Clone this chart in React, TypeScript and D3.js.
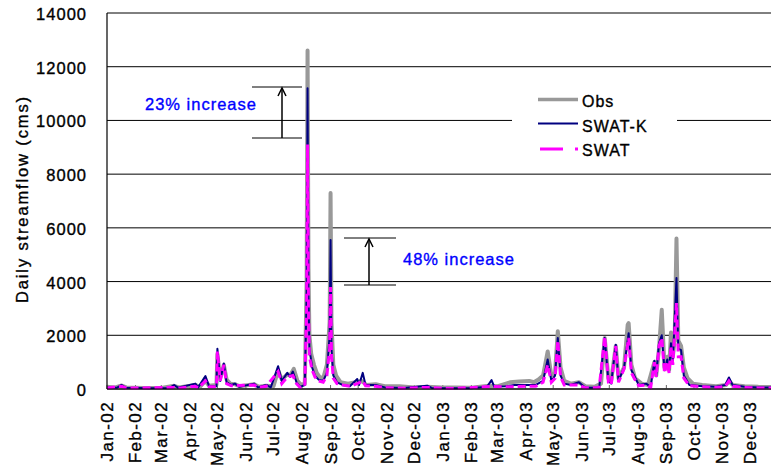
import React from "react";
import * as d3 from "d3";

const months = ["Jan","Feb","Mar","Apr","May","Jun","Jul","Aug","Sep","Oct","Nov","Dec"];
const years = ["02", "03"];
const yTicks = [0, 2000, 4000, 6000, 8000, 10000, 12000, 14000];

const obs: [string, number][] = [
  ["2002-01-01",80],["2002-01-10",60],["2002-01-17",130],["2002-01-22",60],["2002-02-10",40],["2002-03-01",40],
  ["2002-03-15",120],["2002-03-20",60],["2002-04-07",150],["2002-04-12",80],["2002-04-18",300],["2002-04-22",120],
  ["2002-04-30",150],["2002-05-01",1300],["2002-05-04",400],["2002-05-08",900],["2002-05-11",350],["2002-05-15",200],
  ["2002-05-20",180],["2002-05-25",100],["2002-06-10",180],["2002-06-15",80],["2002-06-23",120],["2002-07-01",100],
  ["2002-07-06",700],["2002-07-10",350],["2002-07-16",550],["2002-07-19",500],["2002-07-23",750],["2002-07-27",300],
  ["2002-07-31",150],["2002-08-04",200],["2002-08-06",4000],["2002-08-07",12600],["2002-08-08",4500],["2002-08-09",2000],
  ["2002-08-11",1300],["2002-08-14",900],["2002-08-17",600],["2002-08-20",450],["2002-08-24",400],["2002-08-28",900],
  ["2002-08-31",2500],["2002-09-01",7300],["2002-09-02",2500],["2002-09-04",900],["2002-09-07",500],["2002-09-12",250],
  ["2002-09-20",200],["2002-09-28",250],["2002-10-05",300],["2002-10-10",150],["2002-10-20",180],["2002-10-30",100],
  ["2002-11-15",100],["2002-12-01",60],["2002-12-15",80],["2002-12-31",60],
  ["2003-01-15",60],["2003-02-01",50],["2003-02-20",120],["2003-03-01",100],["2003-03-15",250],["2003-03-25",280],
  ["2003-04-05",300],["2003-04-10",250],["2003-04-15",350],["2003-04-20",500],["2003-04-25",1400],["2003-04-29",500],
  ["2003-05-03",600],["2003-05-06",2150],["2003-05-09",800],["2003-05-13",300],["2003-05-20",200],["2003-05-29",250],
  ["2003-06-05",100],["2003-06-15",80],["2003-06-22",200],["2003-06-26",1900],["2003-06-30",400],["2003-07-03",300],
  ["2003-07-08",1600],["2003-07-11",400],["2003-07-17",800],["2003-07-21",2400],["2003-07-22",2450],["2003-07-25",900],
  ["2003-07-29",400],["2003-08-05",200],["2003-08-12",150],["2003-08-19",1000],["2003-08-21",500],["2003-08-24",1500],
  ["2003-08-27",2950],["2003-08-30",800],["2003-09-02",1200],["2003-09-04",700],["2003-09-06",2100],["2003-09-08",1200],
  ["2003-09-10",1800],["2003-09-12",5600],["2003-09-14",1800],["2003-09-17",1600],["2003-09-20",800],["2003-09-24",400],
  ["2003-09-30",200],["2003-10-10",150],["2003-10-25",100],["2003-11-05",150],["2003-11-08",300],["2003-11-12",150],
  ["2003-11-25",100],["2003-12-10",80],["2003-12-31",70]
];

const swatK: [string, number][] = [
  ["2002-01-01",60],["2002-01-12",50],["2002-01-17",150],["2002-01-21",50],["2002-02-15",30],["2002-03-10",40],
  ["2002-03-15",150],["2002-03-19",50],["2002-04-07",200],["2002-04-10",60],["2002-04-18",480],["2002-04-22",100],
  ["2002-04-30",100],["2002-05-01",1500],["2002-05-04",300],["2002-05-08",950],["2002-05-11",250],["2002-05-16",150],
  ["2002-05-20",200],["2002-05-25",80],["2002-06-10",200],["2002-06-14",60],["2002-06-23",150],["2002-06-28",60],
  ["2002-07-06",850],["2002-07-10",300],["2002-07-16",600],["2002-07-19",450],["2002-07-22",650],["2002-07-26",250],
  ["2002-07-30",80],["2002-08-04",150],["2002-08-06",3500],["2002-08-07",11200],["2002-08-08",3500],["2002-08-09",1500],
  ["2002-08-12",800],["2002-08-15",500],["2002-08-19",350],["2002-08-24",300],["2002-08-28",600],["2002-08-31",2000],
  ["2002-09-01",5550],["2002-09-02",1500],["2002-09-04",500],["2002-09-08",250],["2002-09-14",150],["2002-09-22",100],
  ["2002-09-30",370],["2002-10-02",150],["2002-10-06",600],["2002-10-09",150],["2002-10-20",150],["2002-10-30",60],
  ["2002-11-20",40],["2002-12-15",120],["2002-12-20",40],
  ["2003-01-10",30],["2003-02-01",30],["2003-02-18",80],["2003-02-23",330],["2003-02-26",80],["2003-03-10",100],
  ["2003-03-20",150],["2003-04-01",150],["2003-04-12",150],["2003-04-20",300],["2003-04-25",1100],["2003-04-29",300],
  ["2003-05-03",500],["2003-05-06",1900],["2003-05-09",500],["2003-05-13",200],["2003-05-20",150],["2003-05-29",250],
  ["2003-06-05",50],["2003-06-20",50],["2003-06-26",1900],["2003-06-30",300],["2003-07-03",200],["2003-07-08",1650],
  ["2003-07-11",300],["2003-07-17",800],["2003-07-22",2080],["2003-07-25",700],["2003-07-28",500],["2003-08-02",150],
  ["2003-08-10",200],["2003-08-15",80],["2003-08-19",1050],["2003-08-21",500],["2003-08-24",1700],["2003-08-27",2000],
  ["2003-08-30",700],["2003-09-02",1100],["2003-09-04",700],["2003-09-06",1700],["2003-09-08",1000],["2003-09-12",4130],
  ["2003-09-14",1500],["2003-09-17",1450],["2003-09-20",500],["2003-09-26",150],["2003-10-10",100],["2003-10-25",80],
  ["2003-11-04",150],["2003-11-08",430],["2003-11-12",150],["2003-11-25",80],["2003-12-10",60],["2003-12-31",50]
];

const swat: [string, number][] = [
  ["2002-01-01",40],["2002-01-17",100],["2002-01-22",30],["2002-03-15",60],["2002-03-19",30],["2002-04-07",100],
  ["2002-04-10",40],["2002-04-18",300],["2002-04-22",80],["2002-04-30",80],["2002-05-01",1400],["2002-05-04",300],
  ["2002-05-08",900],["2002-05-11",200],["2002-05-16",120],["2002-06-10",150],["2002-06-14",50],["2002-06-23",100],
  ["2002-07-06",650],["2002-07-10",200],["2002-07-16",450],["2002-07-22",500],["2002-07-26",200],["2002-07-30",50],
  ["2002-08-04",100],["2002-08-06",3000],["2002-08-07",9100],["2002-08-08",3000],["2002-08-09",1200],["2002-08-12",700],
  ["2002-08-15",450],["2002-08-19",300],["2002-08-24",250],["2002-08-28",500],["2002-08-31",1500],["2002-09-01",3800],
  ["2002-09-02",1200],["2002-09-04",400],["2002-09-08",200],["2002-09-14",150],["2002-09-22",100],["2002-09-30",200],
  ["2002-10-06",300],["2002-10-09",120],["2002-10-20",100],["2002-10-30",50],["2002-11-20",30],["2002-12-15",60],
  ["2002-12-31",30],
  ["2003-01-15",20],["2003-02-23",100],["2003-03-10",80],["2003-04-01",100],["2003-04-12",100],["2003-04-20",250],
  ["2003-04-25",900],["2003-04-29",250],["2003-05-03",400],["2003-05-06",1800],["2003-05-09",450],["2003-05-13",150],
  ["2003-05-29",150],["2003-06-05",40],["2003-06-20",60],["2003-06-26",1950],["2003-06-30",250],["2003-07-03",150],
  ["2003-07-08",1600],["2003-07-11",250],["2003-07-17",750],["2003-07-22",1900],["2003-07-25",600],["2003-07-28",400],
  ["2003-08-02",120],["2003-08-10",150],["2003-08-15",60],["2003-08-19",1000],["2003-08-21",450],["2003-08-24",1600],
  ["2003-08-27",1900],["2003-08-30",600],["2003-09-02",1000],["2003-09-04",600],["2003-09-06",1600],["2003-09-08",900],
  ["2003-09-12",3200],["2003-09-14",1200],["2003-09-17",1200],["2003-09-20",400],["2003-09-26",120],["2003-10-10",80],
  ["2003-10-25",60],["2003-11-04",100],["2003-11-08",300],["2003-11-12",100],["2003-11-25",60],["2003-12-10",40],
  ["2003-12-31",30]
];

const parse = d3.timeParse("%Y-%m-%d");
const FONT = "'Liberation Sans', Arial, Helvetica, sans-serif";

export default function App() {
  const W = 771, H = 467;
  const left = 107, top = 13, bottom = 389;
  const x = d3.scaleTime()
    .domain([parse("2002-01-01")!, parse("2004-01-01")!])
    .range([left, left + 0.92 * 730]);
  const y = d3.scaleLinear().domain([0, 14000]).range([bottom, top]);
  const line = d3.line<[string, number]>()
    .x(d => x(parse(d[0])!))
    .y(d => y(d[1]));

  const monthTicks: { date: Date; label: string }[] = [];
  years.forEach((yy) => {
    months.forEach((m, i) => {
      monthTicks.push({ date: new Date(2000 + +yy, i, 1), label: `${m}-${yy}` });
    });
  });

  const arrow = (xa: number, y0: number, y1: number, x0: number, x1: number) => (
    <g stroke="#000" fill="none">
      <line x1={x0} x2={x1} y1={y0} y2={y0} strokeWidth={1} />
      <line x1={x0} x2={x1} y1={y1} y2={y1} strokeWidth={1} />
      <line x1={xa} x2={xa} y1={y1} y2={y0 + 1} strokeWidth={1.5} />
      <path d={`M${xa - 4},${y0 + 9} L${xa},${y0 + 1} L${xa + 4},${y0 + 9}`} strokeWidth={1.5} />
    </g>
  );

  const txt = { strokeWidth: 0.35, paintOrder: "stroke" as const };

  return (
    <svg width={W} height={H} style={{ position: "absolute", left: 0, top: 0, background: "#fff" }}
      fontFamily={FONT}>
      <rect x={0} y={0} width={W} height={H} fill="#fff" />
      {/* gridlines */}
      {yTicks.map(t => (
        <line key={t} x1={left} x2={W + 10} y1={y(t)} y2={y(t)} stroke="#000" strokeWidth={1} />
      ))}
      {/* legend background */}
      <rect x={512} y={86} width={165} height={78} fill="#fff" />
      {/* x ticks */}
      {monthTicks.map((t, i) => (
        <line key={i} x1={x(t.date)} x2={x(t.date)} y1={bottom} y2={bottom - 4} stroke="#666" strokeWidth={1} />
      ))}
      {/* series */}
      <path d={line(obs) || ""} fill="none" stroke="#999999" strokeWidth={4} strokeLinejoin="round" />
      <path d={line(swatK) || ""} fill="none" stroke="#000080" strokeWidth={2} strokeLinejoin="round" />
      <path d={line(swat) || ""} fill="none" stroke="#FF00FF" strokeWidth={3} strokeDasharray="8,4" />
      {/* axes */}
      <line x1={left} x2={left} y1={top} y2={bottom} stroke="#000" strokeWidth={1.2} />
      <line x1={left} x2={W + 10} y1={bottom} y2={bottom} stroke="#000" strokeWidth={1.2} />
      {/* y tick labels */}
      {yTicks.map(t => (
        <text key={t} x={87} y={y(t) + 7} textAnchor="end" fontSize={16.5} letterSpacing={1} fill="#000"
          stroke="#000" {...txt}>{t}</text>
      ))}
      {/* x tick labels */}
      {monthTicks.map((t, i) => (
        <text key={i} transform={`translate(${x(t.date)},401) rotate(-90)`} dy="0.35em" textAnchor="end"
          fontSize={17} letterSpacing={1.4} fill="#000" stroke="#000" {...txt}>{t.label}</text>
      ))}
      {/* y axis title */}
      <text transform="translate(22,200) rotate(-90)" dy="0.35em" textAnchor="middle" fontSize={16.5}
        textLength={206} lengthAdjust="spacing" fill="#000" stroke="#000" {...txt}>Daily streamflow (cms)</text>
      {/* legend */}
      <line x1={538} x2={578} y1={99.5} y2={99.5} stroke="#999999" strokeWidth={3.5} />
      <line x1={538} x2={578} y1={123.5} y2={123.5} stroke="#000080" strokeWidth={2} />
      <line x1={540} x2={578} y1={149} y2={149} stroke="#FF00FF" strokeWidth={3} strokeDasharray="23,12" />
      <text x={582} y={107} fontSize={16} letterSpacing={1} fill="#000" stroke="#000" {...txt}>Obs</text>
      <text x={582} y={132} fontSize={16} letterSpacing={1} fill="#000" stroke="#000" {...txt}>SWAT-K</text>
      <text x={582} y={156} fontSize={16} letterSpacing={1} fill="#000" stroke="#000" {...txt}>SWAT</text>
      {/* annotations */}
      {arrow(282, 87, 138, 252, 302)}
      {arrow(369, 238, 285, 344, 396)}
      <text x={145} y={110} fontSize={16.5} letterSpacing={1} fill="#0000FF" stroke="#0000FF" {...txt}>23% increase</text>
      <text x={403} y={265} fontSize={16.5} letterSpacing={1} fill="#0000FF" stroke="#0000FF" {...txt}>48% increase</text>
    </svg>
  );
}
